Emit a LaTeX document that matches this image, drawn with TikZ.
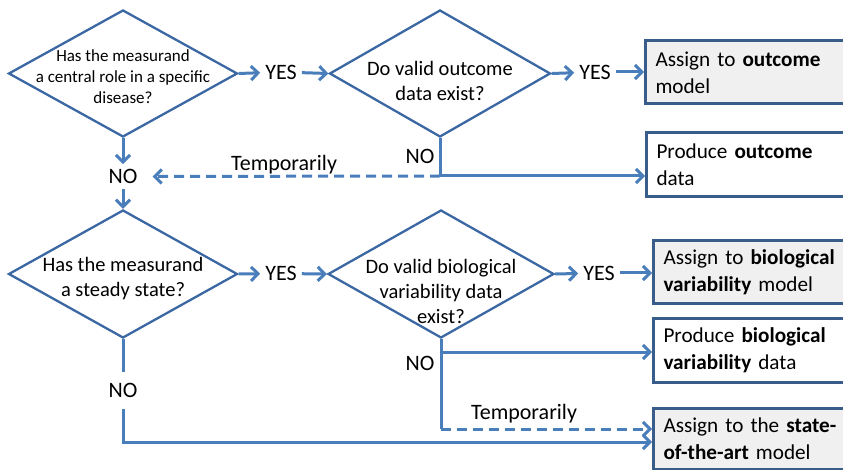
\documentclass[tikz,border=0pt]{standalone}
\usepackage{fontspec}
\setmainfont{Carlito}
\usepackage{tikz}
\usetikzlibrary{shapes.geometric}
\usetikzlibrary{arrows.meta}
\definecolor{lineblue}{HTML}{4A7EBB}
\definecolor{edgeblue}{HTML}{3B67A3}
\definecolor{boxblue}{HTML}{385D8A}
\definecolor{boxgray}{HTML}{F0F0F0}
\newcommand{\fbig}{\fontsize{22}{27}\selectfont}
\newcommand{\fresult}{\fontsize{21.2}{27}\selectfont}
\newcommand{\fmid}{\fontsize{20.5}{25}\selectfont}
\newcommand{\fsmall}{\fontsize{17}{21}\selectfont}

\begin{document}
\begin{tikzpicture}[x=1pt,y=-1pt,>={Straight Barb[length=7pt,width=14pt]}]
\tikzstyle{decision}=[diamond, draw=edgeblue, line width=2.3pt, inner sep=0pt]
\tikzstyle{qtext}=[align=center, inner sep=0pt]
\tikzstyle{result}=[draw=boxblue, line width=3pt, anchor=west, align=left,
                    inner xsep=10pt, text width=200pt, font=\fresult]
\tikzstyle{word}=[font=\fbig, inner sep=5pt]
\tikzstyle{flow}=[draw=lineblue, line width=3pt]
\tikzstyle{later}=[flow, dash pattern=on 10pt off 6pt]
\useasboundingbox (0,0) rectangle (843,470);

% questions
\node[decision, minimum width=229pt, minimum height=127pt] (q1) at (123,73.5) {};
\node[qtext, font=\fsmall] (q1t) at (123,77) {Has the measurand\\a central role in a specific\\disease?};
\node[decision, minimum width=221pt, minimum height=127pt] (q2) at (440,73.5) {};
\node[qtext, font=\fmid] (q2t) at (440,81) {Do valid outcome\\data exist?};
\node[decision, minimum width=229pt, minimum height=128pt] (q3) at (123,274) {};
\node[qtext, font=\fmid] (q3t) at (123,279) {Has the measurand\\a steady state?};
\node[decision, minimum width=226pt, minimum height=128pt] (q4) at (441,274) {};
\node[qtext, font=\fmid] (q4t) at (441,291) {Do valid biological\\variability data\\exist?};

% outcomes
\node[result, fill=boxgray, minimum height=63pt] (out1) at (644,72.5)
  {Assign to \textbf{outcome}\\model};
\node[result, minimum height=64pt] (prod1) at (645,165)
  {Produce \textbf{outcome}\\data};
\node[result, fill=boxgray, minimum height=63pt] (out2) at (652,272)
  {Assign to \textbf{biological}\\\textbf{variability} model};
\node[result, minimum height=64pt] (prod2) at (652,350)
  {Produce \textbf{biological}\\\textbf{variability} data};
\node[result, fill=boxgray, minimum height=61pt] (sota) at (652,438.5)
  {Assign to the \textbf{state-}\\\textbf{of-the-art} model};

% answers
\node[word] (yes1) at (281,72) {YES};
\node[word] (yes2) at (595,72) {YES};
\node[word] (yes3) at (281,273.5) {YES};
\node[word] (yes4) at (599,273) {YES};
\node[word] (no1) at (123,176.5) {NO};
\node[word] (no2) at (420,156) {NO};
\node[word, inner ysep=11pt] (no3) at (123,390.5) {NO};
\node[word] (no4) at (420,363) {NO};
\node[word] (temp1) at (284,164.5) {Temporarily};
\node[word] (temp2) at (524,413.5) {Temporarily};

\coordinate (j1) at (440,176);
\coordinate (j2) at (441,429);
\coordinate (j3) at (441,352);
\coordinate (j4) at (123,442);

% upper half
\draw[flow,->] (q1.east) -- (yes1);
\draw[flow,->] (yes1) -- (q2.west);
\draw[flow,->] (q2.east) -- (yes2);
\draw[flow,->] (yes2) -- (yes2 -| out1.west);
\draw[flow] (q2.south) -- (j1);
\draw[flow,->] (j1) -- (j1 -| prod1.west);
\draw[later,->,shorten >=10pt] (j1) -- (no1);
\draw[flow,->] (q1.south) -- (no1);
\draw[flow,->] (no1) -- (q3.north);

% lower half
\draw[flow,->] (q3.east) -- (yes3);
\draw[flow,->] (yes3) -- (q4.west);
\draw[flow,->] (q4.east) -- (yes4);
\draw[flow,->] (yes4) -- (yes4 -| out2.west);
\draw[flow] (q4.south) -- (j2);
\draw[flow,->] (j3) -- (j3 -| prod2.west);
\draw[later,->] (j2) -- (j2 -| sota.west);
\draw[flow] (q3.south) -- (no3);
\draw[flow,->] (no3) -- (j4) -- (j4 -| sota.west);
\end{tikzpicture}
\end{document}
